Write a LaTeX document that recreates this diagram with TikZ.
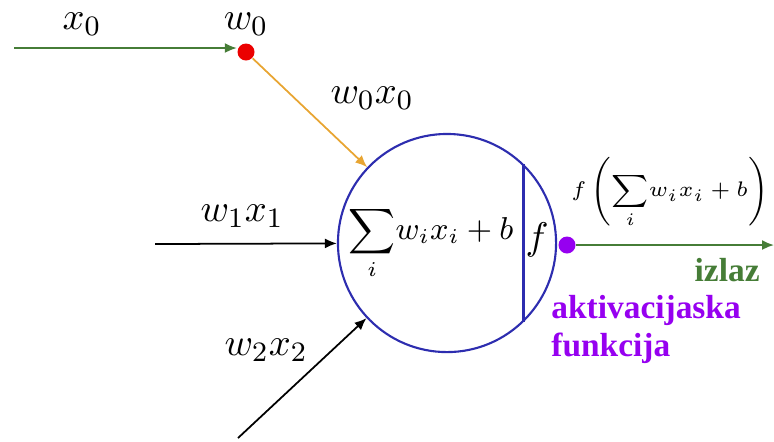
\documentclass[tikz,border=0pt]{standalone}
\usepackage{amsmath}
\usepackage{fontspec}
\newfontfamily\labelfont{Liberation Serif}[BoldFont={Liberation Serif Bold}]
\usepackage{tikz}
\usetikzlibrary{arrows.meta, positioning}

\definecolor{inputgreen}{RGB}{70,125,55}
\definecolor{weightred}{RGB}{235,0,0}
\definecolor{prodorange}{RGB}{232,165,50}
\definecolor{neuronblue}{RGB}{45,45,175}
\definecolor{actviolet}{RGB}{150,0,240}

\begin{document}
\begin{tikzpicture}[x=0.01cm, y=-0.01cm,
  font=\fontsize{11}{13}\selectfont,
  conn/.style={-{Latex[length=1.2mm, width=1mm]}, line width=0.5pt},
  dot/.style={circle, inner sep=0pt, minimum size=0.17cm},
  wordlbl/.style={font=\labelfont\bfseries\fontsize{9.5}{10.8}\selectfont}]
  \useasboundingbox (0,0) rectangle (774,441);

  % neuron body
  \node[circle, draw=neuronblue, line width=0.6pt, minimum size=2.18cm, inner sep=0pt] (neuron) at (447,243) {};
  \draw[draw=neuronblue, line width=0.6pt] (neuron.46) -- (neuron.-46);
  \node[font=\fontsize{9}{11}\selectfont] (sum) at (431,243) {$\displaystyle\sum_i\! w_i x_i + b$};
  \node (act) at (537,240) {$f$};

  % input x0 through weight w0
  \coordinate (x0start) at (14,48);
  \node[dot, fill=weightred] (w0) at (246,52) {};
  \node (w0lbl) at (246,24) {$w_0$};
  \node (x0lbl) at (82,24) {$x_0$};
  \draw[conn, draw=inputgreen, fill=inputgreen] (x0start) -- (x0start -| w0.west);
  \draw[conn, draw=prodorange, fill=prodorange] (w0) -- (neuron);
  \node (w0x0lbl) at (372,98) {$w_0x_0$};

  % other inputs
  \coordinate (in1) at (155,244);
  \node (w1x1lbl) at (242,216) {$w_1x_1$};
  \draw[conn] (in1) -- (neuron);
  \coordinate (in2) at (238,438);
  \node (w2x2lbl) at (266,350) {$w_2x_2$};
  \draw[conn] (in2) -- (neuron);

  % output
  \node[dot, fill=actviolet] (out) at (567,245) {};
  \coordinate (outend) at (774,245);
  \draw[conn, draw=inputgreen, fill=inputgreen] (out) -- (outend);
  \node[font=\fontsize{6.5}{8}\selectfont] (outlbl) at (670,193) {$f\left(\displaystyle\sum_i\! w_ix_i + b\right)$};
  \node[wordlbl, anchor=east, text=inputgreen] (izlaz) at (772,270) {izlaz};
  \node[wordlbl, anchor=north west, text=actviolet, align=left] (actlbl) at (539,283)
    {aktivacijaska\\funkcija};
\end{tikzpicture}
\end{document}
